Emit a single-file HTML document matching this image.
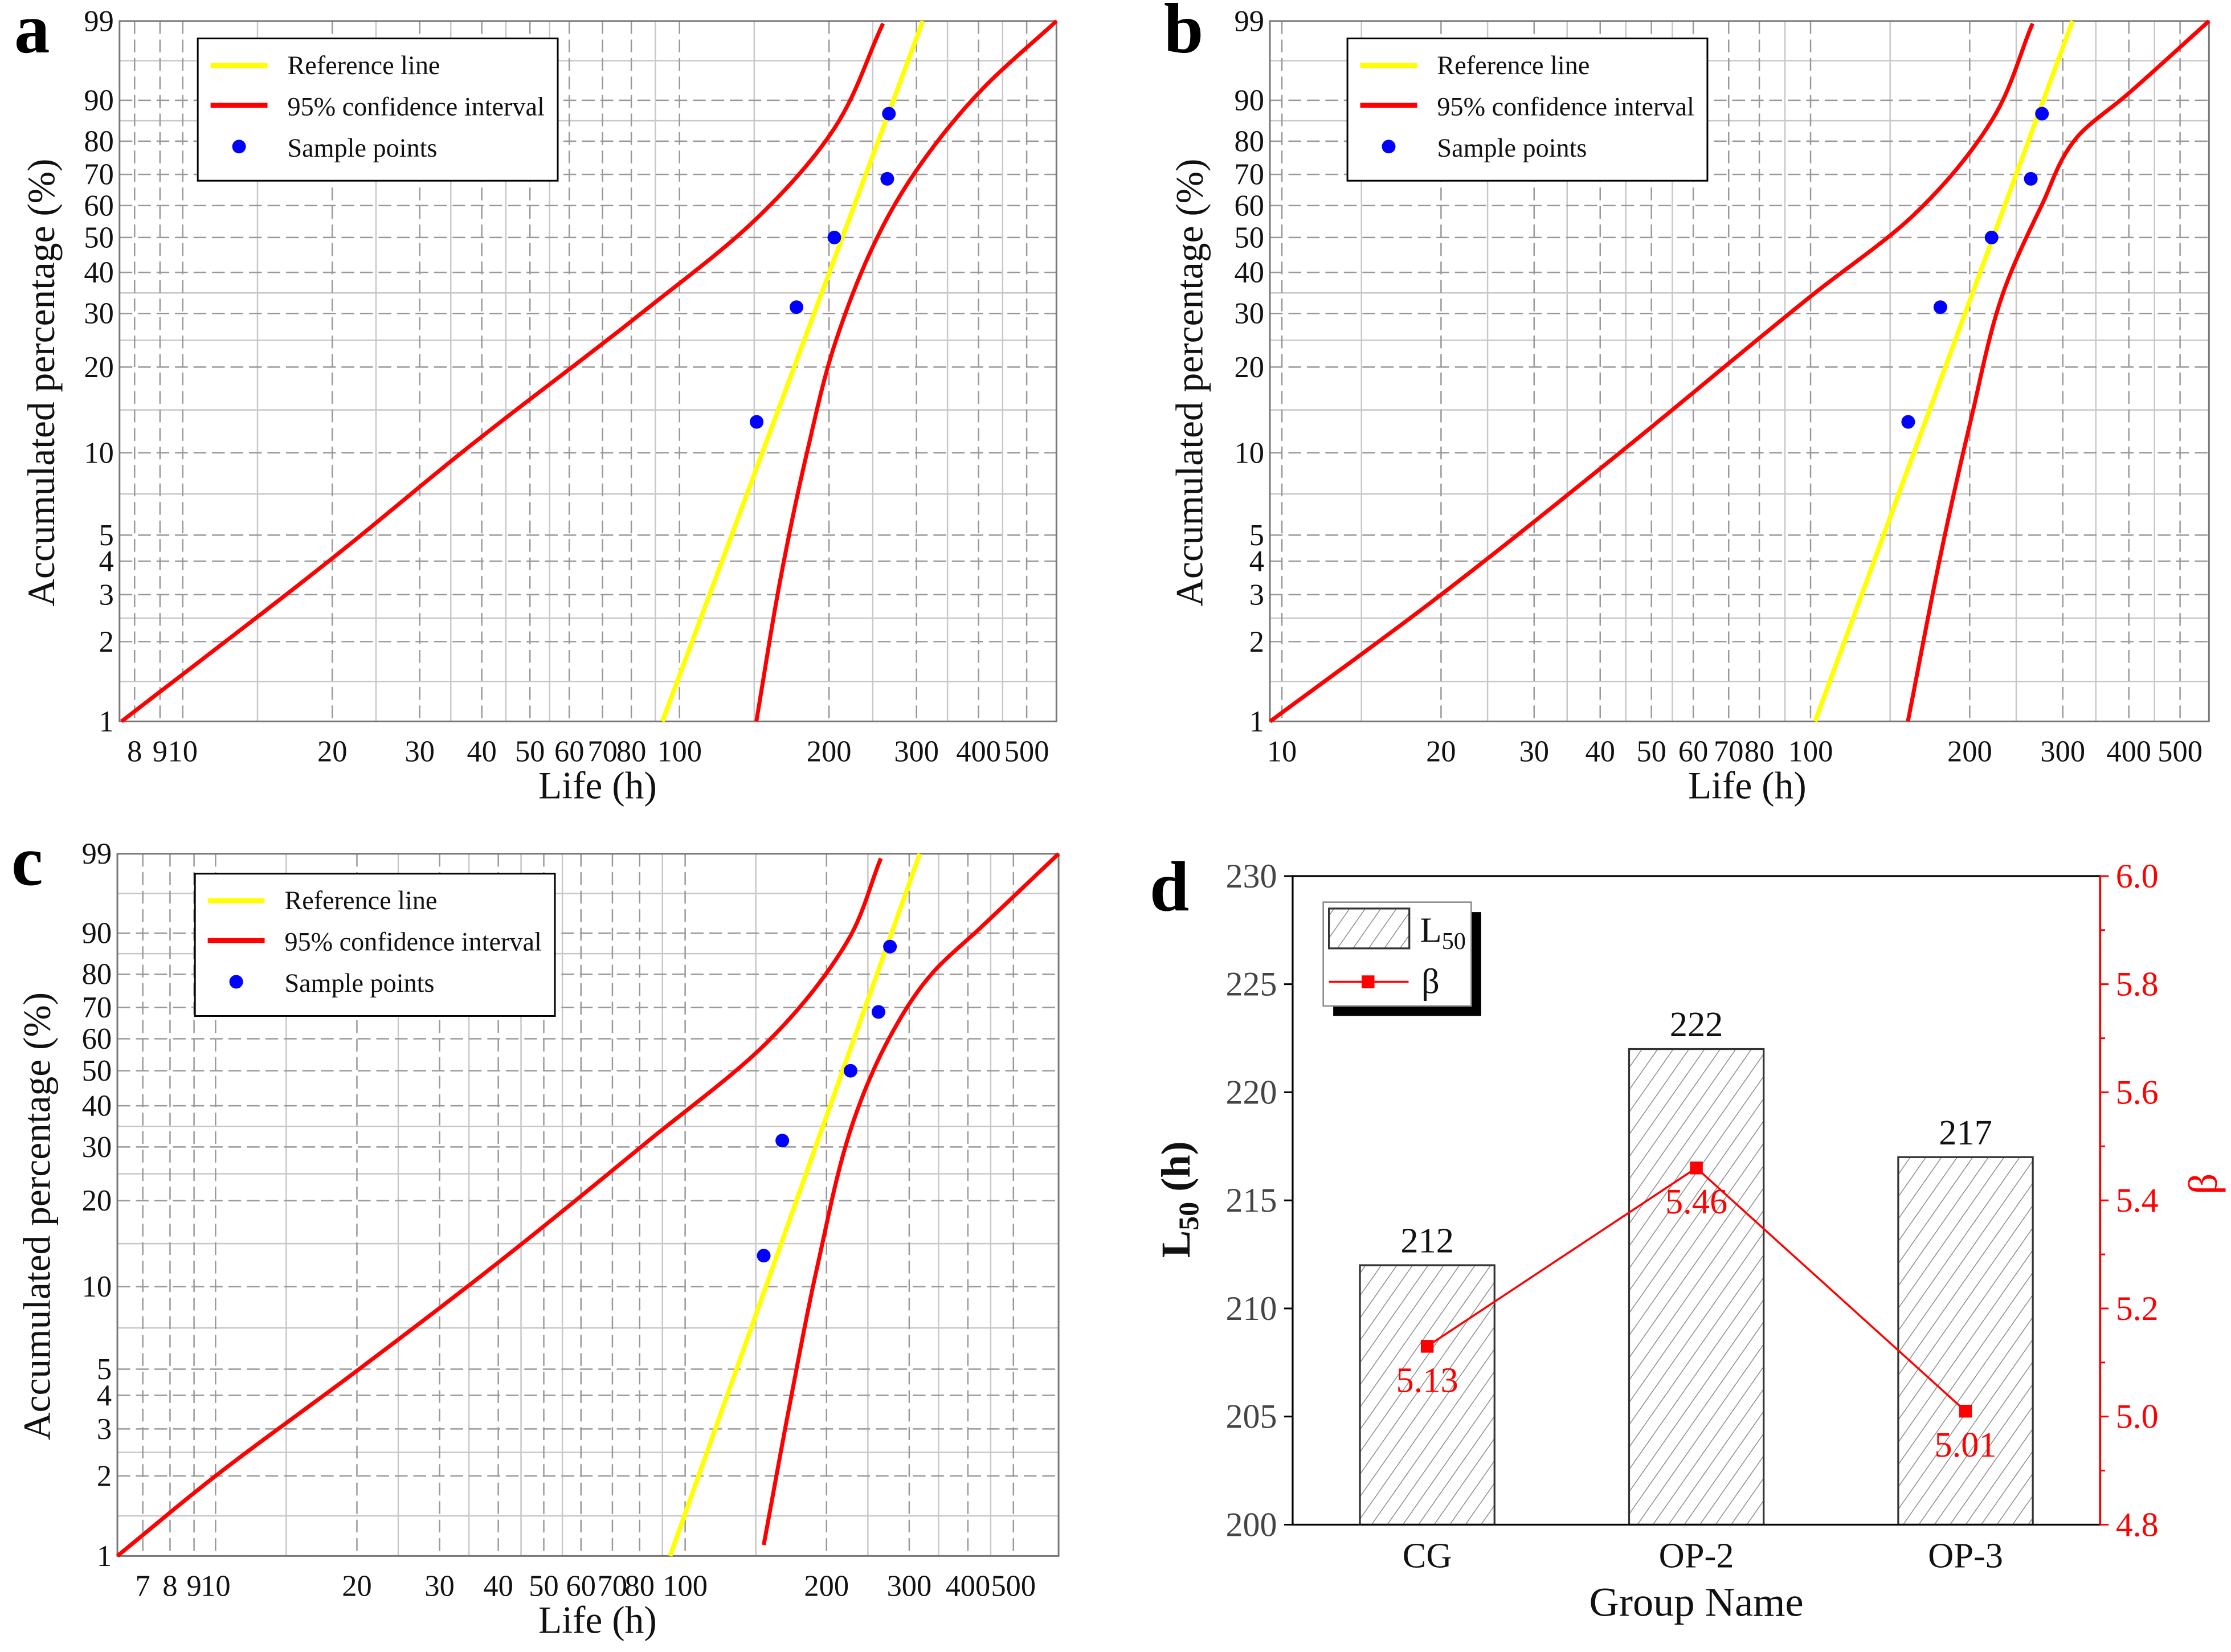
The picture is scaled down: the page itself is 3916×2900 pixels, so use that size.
<!DOCTYPE html>
<html><head><meta charset="utf-8"><style>
html,body{margin:0;padding:0;background:#fff;}
svg{display:block;}
</style></head>
<body>
<svg id="fig" xmlns="http://www.w3.org/2000/svg" width="3916" height="2900" viewBox="0 0 1568 1161" preserveAspectRatio="none" font-family="'Liberation Serif', 'DejaVu Serif', serif">
<defs>
<pattern id="hatch" patternUnits="userSpaceOnUse" width="9" height="9" patternTransform="rotate(35)">
<rect width="9" height="9" fill="#fff"/><line x1="0" y1="0" x2="0" y2="9" stroke="#777" stroke-width="1"/>
</pattern>
</defs>
</svg>
<script>
// ---------- Panel a data ----------
const aPointsLife = [143, 172, 205, 262, 264];
const aPointsPct = [12.9, 31.4, 50, 68.6, 87.1];
const aRefLife = [92.4, 309];
const aRefPct = [1, 99];
const aLowLife = [7.53, 20.0, 37.9, 83.7, 141.9, 203.6, 256.9];
const aLowPct = [1.0, 4.1, 10.6, 30.0, 55.4, 82.9, 98.9];
const aUpLife = [142.8, 160, 181, 206.5, 257, 313, 407, 574];
const aUpPct = [1.0, 3.5, 10.2, 24.5, 53.6, 75.3, 92.1, 99];
const aXTicks = [8, 9, 10, 20, 30, 40, 50, 60, 70, 80, 100, 200, 300, 400, 500];
// ---------- Panel b data ----------
const bPointsLife = [153, 176, 220, 261, 274];
const bPointsPct = [12.9, 31.4, 50, 68.6, 87.1];
const bRefLife = [102, 313];
const bRefPct = [1, 99];
const bLowLife = [9.5, 20.0, 42.7, 100, 156.7, 220, 263];
const bLowPct = [1.0, 3.0, 9.7, 33.9, 57.0, 85.4, 98.9];
const bUpLife = [152.8, 177, 201, 231, 274, 320, 397, 567];
const bUpPct = [1.0, 4.4, 13.1, 34.5, 60.3, 81.3, 91.1, 99];
const bXTicks = [10, 20, 30, 40, 50, 60, 70, 80, 100, 200, 300, 400, 500];
// ---------- Panel c data ----------
const cPointsLife = [147, 161, 225, 258, 273];
const cPointsPct = [12.9, 31.4, 50, 68.6, 87.1];
const cRefLife = [92.9, 316];
const cRefPct = [1, 99];
const cLowLife = [6.18, 10, 19.9, 40, 83.2, 150, 221, 261];
const cLowPct = [1.0, 2.0, 4.9, 12.2, 31.2, 59.1, 88.1, 98.8];
const cUpLife = [147, 167, 192, 228.5, 277, 335.5, 428.5, 624];
const cUpPct = [1.1, 3.7, 12.2, 36.2, 62.4, 80.2, 91.3, 99];
const cXTicks = [7, 8, 9, 10, 20, 30, 40, 50, 60, 70, 80, 100, 200, 300, 400, 500];
const yTicks = [1, 2, 3, 4, 5, 10, 20, 30, 40, 50, 60, 70, 80, 90, 99];
// ---------- Panel d data ----------
const dCategories = ["CG", "OP-2", "OP-3"];
const dL50 = [212, 222, 217];
const dBeta = [5.13, 5.46, 5.01];
const dLeftTicks = [200, 205, 210, 215, 220, 225, 230];
const dRightTicks = [4.8, 5.0, 5.2, 5.4, 5.6, 5.8, 6.0];

const NS = "http://www.w3.org/2000/svg";
const FONT = "'Liberation Serif', 'DejaVu Serif', serif";
const svg = document.getElementById("fig");
function mk(tag, attrs, parent) {
  const e = document.createElementNS(NS, tag);
  for (const k in attrs) e.setAttribute(k, attrs[k]);
  (parent || svg).appendChild(e);
  return e;
}
function txt(str, attrs, parent) { attrs["font-family"] = FONT; const t = mk("text", attrs, parent); t.textContent = str; return t; }
// monotone cubic interpolation of x as a function of y (points ordered with decreasing y pixel)
function monotonePath(pts) {
  const P = pts.map(p => [-p[1], p[0]]); // t = -y increasing, value = x
  const n = P.length, d = [], m = new Array(n);
  for (let i = 0; i < n - 1; i++) d.push((P[i + 1][1] - P[i][1]) / (P[i + 1][0] - P[i][0]));
  m[0] = d[0]; m[n - 1] = d[n - 2];
  for (let i = 1; i < n - 1; i++) m[i] = d[i - 1] * d[i] <= 0 ? 0 : (d[i - 1] + d[i]) / 2;
  for (let i = 0; i < n - 1; i++) {
    if (d[i] === 0) { m[i] = m[i + 1] = 0; continue; }
    const a = m[i] / d[i], b = m[i + 1] / d[i], s = a * a + b * b;
    if (s > 9) { const t = 3 / Math.sqrt(s); m[i] = t * a * d[i]; m[i + 1] = t * b * d[i]; }
  }
  let out = "M" + P[0][1] + "," + (-P[0][0]);
  for (let i = 0; i < n - 1; i++) {
    const h = P[i + 1][0] - P[i][0];
    for (let k = 1; k <= 12; k++) {
      const t = k / 12, t2 = t * t, t3 = t2 * t;
      const x = (2 * t3 - 3 * t2 + 1) * P[i][1] + (t3 - 2 * t2 + t) * h * m[i] + (-2 * t3 + 3 * t2) * P[i + 1][1] + (t3 - t2) * h * m[i + 1];
      const yy = P[i][0] + t * h;
      out += " L" + x.toFixed(2) + "," + (-yy).toFixed(2);
    }
  }
  return out;
}
const wv = p => Math.log(-Math.log(1 - p / 100));

function weibullPanel(cfg) {
  const g = mk("g", {});
  
  
  const lx = v => cfg.x0 + (Math.log10(v) - Math.log10(cfg.lmin)) / (Math.log10(cfg.lmax) - Math.log10(cfg.lmin)) * (cfg.x1 - cfg.x0);
  const vmin = wv(1), vmax = wv(99);
  const py = p => cfg.y1 - (wv(p) - vmin) / (vmax - vmin) * (cfg.y1 - cfg.y0);
  const grid = mk("g", {}, g);
  
  
  const xs = cfg.xt.map(lx), ys = yTicks.map(py);
  for (let i = 0; i < xs.length - 1; i++) {
    const m = (xs[i] + xs[i + 1]) / 2;
    if (xs[i + 1] - xs[i] > 25) mk("line", {x1: m, x2: m, y1: cfg.y0, y2: cfg.y1, stroke: "#c8c8c8", "stroke-width": 1}, grid);
  }
  for (let i = 0; i < ys.length - 1; i++) {
    const m = (ys[i] + ys[i + 1]) / 2;
    if (ys[i] - ys[i + 1] > 25) mk("line", {x1: cfg.x0, x2: cfg.x1, y1: m, y2: m, stroke: "#c8c8c8", "stroke-width": 1}, grid);
  }
  xs.forEach(x => mk("line", {x1: x, x2: x, y1: cfg.y0, y2: cfg.y1, stroke: "#999", "stroke-width": 1, "stroke-dasharray": "9 4"}, grid));
  ys.forEach(y => mk("line", {x1: cfg.x0, x2: cfg.x1, y1: y, y2: y, stroke: "#999", "stroke-width": 1, "stroke-dasharray": "9 4"}, grid));
  const frame = mk("rect", {x: cfg.x0, y: cfg.y0, width: cfg.x1 - cfg.x0, height: cfg.y1 - cfg.y0, fill: "none", stroke: "#777", "stroke-width": 1.2}, g);
  
  
  cfg.xt.forEach(v => {
    const t = txt(String(v), {x: lx(v), y: cfg.y1 + 28, "font-size": 21, "text-anchor": "middle", fill: "#111"}, g);
    
    
  });
  yTicks.forEach(v => {
    const t = txt(String(v), {x: cfg.x0 - 4, y: py(v) + 7, "font-size": 21, "text-anchor": "end", fill: "#111"}, g);
    
    
  });
  const xt = txt("Life (h)", {x: cfg.xTitleX, y: cfg.y1 + 54, "font-size": 27, "text-anchor": "middle", fill: "#111"}, g);
  
  
  const ym = (cfg.y0 + cfg.y1) / 2 + 8;
  const yt = txt("Accumulated percentage (%)", {x: 0, y: 0, "font-size": 27, "text-anchor": "middle", fill: "#111", transform: "translate(" + cfg.yTitleX + "," + ym + ") rotate(-90)"}, g);
  
  
  const pl = txt(cfg.id, {x: cfg.labelX, y: cfg.y0 + 22, "font-size": 50, "font-weight": "bold", fill: "#000"}, g);
  
  
  const lowPts = cfg.lowLife.map((v, i) => [lx(v), py(cfg.lowPct[i])]);
  const upPts = cfg.upLife.map((v, i) => [lx(v), py(cfg.upPct[i])]);
  const low = mk("path", {d: monotonePath(lowPts), fill: "none", stroke: "#f00", "stroke-width": 2.8, "stroke-linejoin": "round"}, g);
  
  
  const up = mk("path", {d: monotonePath(upPts), fill: "none", stroke: "#f00", "stroke-width": 2.8, "stroke-linejoin": "round"}, g);
  
  
  const ref = mk("line", {x1: lx(cfg.refLife[0]), y1: py(cfg.refPct[0]), x2: lx(cfg.refLife[1]), y2: py(cfg.refPct[1]), stroke: "#ffff00", "stroke-width": 3.2}, g);
  
  
  cfg.ptsLife.forEach((v, i) => {
    const c = mk("circle", {cx: lx(v), cy: py(cfg.ptsPct[i]), r: 4.8, fill: "#0000ff"}, g);
    
    
  });
  const L = mk("g", {}, g);
  
  
  const lx0 = cfg.legX, ly0 = cfg.legY;
  mk("rect", {x: lx0, y: ly0, width: 253, height: 100, fill: "#fff", stroke: "#000", "stroke-width": 1.2}, L);
  mk("line", {x1: lx0 + 9, x2: lx0 + 49, y1: ly0 + 19, y2: ly0 + 19, stroke: "#ffff00", "stroke-width": 3.5}, L);
  mk("line", {x1: lx0 + 9, x2: lx0 + 49, y1: ly0 + 47, y2: ly0 + 47, stroke: "#f00", "stroke-width": 3.5}, L);
  mk("circle", {cx: lx0 + 29, cy: ly0 + 76, r: 4.8, fill: "#0000ff"}, L);
  ["Reference line", "95% confidence interval", "Sample points"].forEach((s, i) => {
    const t = txt(s, {x: lx0 + 63, y: ly0 + 25 + i * 29, "font-size": 18.5, fill: "#111"}, L);
    
    
  });
}

weibullPanel({id: "a", x0: 84, x1: 742.5, lmin: 7.46, lmax: 574, y0: 14.8, y1: 507, xt: aXTicks, xTitleX: 420, yTitleX: 38, labelX: 10,
  legX: 139, legY: 27, ptsLife: aPointsLife, ptsPct: aPointsPct, refLife: aRefLife, refPct: aRefPct,
  lowLife: aLowLife, lowPct: aLowPct, upLife: aUpLife, upPct: aUpPct});
weibullPanel({id: "b", x0: 892.5, x1: 1552.5, lmin: 9.49, lmax: 567, y0: 14.8, y1: 507, xt: bXTicks, xTitleX: 1228, yTitleX: 845, labelX: 818,
  legX: 947, legY: 27, ptsLife: bPointsLife, ptsPct: bPointsPct, refLife: bRefLife, refPct: bRefPct,
  lowLife: bLowLife, lowPct: bLowPct, upLife: bUpLife, upPct: bUpPct});
weibullPanel({id: "c", x0: 82.5, x1: 744, lmin: 6.18, lmax: 624, y0: 600, y1: 1093.5, xt: cXTicks, xTitleX: 420, yTitleX: 35, labelX: 8,
  legX: 137, legY: 614, ptsLife: cPointsLife, ptsPct: cPointsPct, refLife: cRefLife, refPct: cRefPct,
  lowLife: cLowLife, lowPct: cLowPct, upLife: cUpLife, upPct: cUpPct});

(function () {
  const g = mk("g", {});
  
  
  const X0 = 908.5, X1 = 1476, Y0 = 615.7, Y1 = 1071.5;
  const band = (X1 - X0) / dCategories.length;
  const cx = i => X0 + band * (i + 0.5);
  const yl = v => Y1 - (v - 200) / 30 * (Y1 - Y0);
  const yr = v => Y1 - (v - 4.8) / 1.2 * (Y1 - Y0);
  dL50.forEach((v, i) => {
    const r = mk("rect", {x: cx(i) - band / 4, y: yl(v), width: band / 2, height: Y1 - yl(v), fill: "url(#hatch)", stroke: "#333", "stroke-width": 1.3}, g);
    
    
    const t = txt(String(v), {x: cx(i), y: yl(v) - 9, "font-size": 25, "text-anchor": "middle", fill: "#111"}, g);
    
    
  });
  mk("rect", {x: X0, y: Y0, width: X1 - X0, height: Y1 - Y0, fill: "none", stroke: "#000", "stroke-width": 1.3}, g);
  mk("line", {x1: X1, x2: X1, y1: Y0, y2: Y1, stroke: "#f00", "stroke-width": 1.5}, g);
  dLeftTicks.forEach(v => {
    mk("line", {x1: X0 - 6, x2: X0, y1: yl(v), y2: yl(v), stroke: "#000", "stroke-width": 1.2}, g);
    const t = txt(String(v), {x: X0 - 11, y: yl(v) + 8, "font-size": 24, "text-anchor": "end", fill: "#444"}, g);
    
    
  });
  dRightTicks.forEach((v, i) => {
    mk("line", {x1: X1, x2: X1 + 6, y1: yr(v), y2: yr(v), stroke: "#f00", "stroke-width": 1.2}, g);
    if (i < dRightTicks.length - 1) {
      const m = (yr(v) + yr(dRightTicks[i + 1])) / 2;
      mk("line", {x1: X1, x2: X1 + 3.5, y1: m, y2: m, stroke: "#f00", "stroke-width": 1.2}, g);
    }
    const t = txt(v.toFixed(1), {x: X1 + 11, y: yr(v) + 8, "font-size": 24, fill: "#f00"}, g);
    
    
  });
  dCategories.forEach((c, i) => {
    const t = txt(c, {x: cx(i), y: Y1 + 30, "font-size": 25, "text-anchor": "middle", fill: "#111"}, g);
    
    
  });
  const pts = dBeta.map((v, i) => cx(i) + "," + yr(v)).join(" ");
  const line = mk("polyline", {points: pts, fill: "none", stroke: "#f00", "stroke-width": 1.4}, g);
  
  
  dBeta.forEach((v, i) => {
    const m = mk("rect", {x: cx(i) - 4.5, y: yr(v) - 4.5, width: 9, height: 9, fill: "#f00"}, g);
    
    
    const t = txt(v.toFixed(2), {x: cx(i), y: yr(v) + 32, "font-size": 25, "text-anchor": "middle", fill: "#f00"}, g);
    
    
  });
  const xt = txt("Group Name", {x: (X0 + X1) / 2, y: Y1 + 64, "font-size": 29, "text-anchor": "middle", fill: "#111"}, g);
  
  
  const yt = mk("text", {x: 0, y: 0, "font-family": FONT, "font-size": 29, "font-weight": "bold", "text-anchor": "middle", fill: "#111", transform: "translate(836,843) rotate(-90)"}, g);
  yt.innerHTML = 'L<tspan font-size="20" dy="6">50</tspan><tspan dy="-6"> (h)</tspan>';
  
  
  const yt2 = txt("β", {x: 0, y: 0, "font-size": 29, "text-anchor": "middle", fill: "#f00", transform: "translate(1558,832) rotate(-90)"}, g);
  
  
  const pl = txt("d", {x: 808, y: 640, "font-size": 50, "font-weight": "bold", fill: "#000"}, g);
  
  
  const L = mk("g", {}, g);
  
  
  mk("rect", {x: 937, y: 641, width: 104, height: 73, fill: "#000"}, L);
  mk("rect", {x: 930, y: 634, width: 104, height: 73, fill: "#fff", stroke: "#888", "stroke-width": 1}, L);
  mk("rect", {x: 934, y: 638.5, width: 56.5, height: 28, fill: "url(#hatch)", stroke: "#333", "stroke-width": 1.3}, L);
  const l1 = mk("text", {x: 998, y: 662, "font-family": FONT, "font-size": 25, fill: "#111"}, L);
  l1.innerHTML = 'L<tspan font-size="17" dy="5">50</tspan>';
  
  
  mk("line", {x1: 934, x2: 990, y1: 690, y2: 690, stroke: "#f00", "stroke-width": 1.4}, L);
  mk("rect", {x: 957, y: 685.5, width: 9, height: 9, fill: "#f00"}, L);
  const l2 = txt("β", {x: 999, y: 698, "font-size": 25, fill: "#111"}, L);
  
  
})();
</script>
</body></html>
